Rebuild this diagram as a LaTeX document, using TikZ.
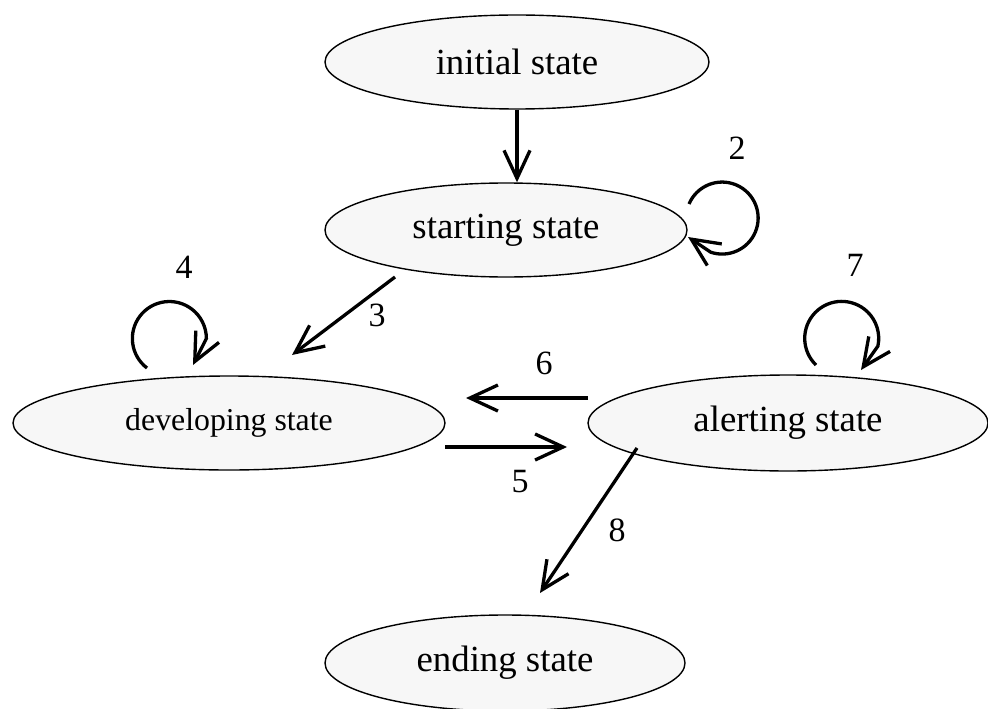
\documentclass[tikz,border=0pt]{standalone}
\usepackage{fontspec}
\setmainfont{Liberation Serif}
\usetikzlibrary{shapes.geometric,arrows.meta}
\definecolor{statefill}{HTML}{F7F7F7}

\begin{document}
\begin{tikzpicture}[x=0.5pt,y=0.5pt]
  \tikzstyle{state} = [ellipse, draw, line width=0.7pt, fill=statefill, inner sep=0pt, minimum height=47pt, font=\fontsize{18.4}{20}\selectfont]
  \tikzstyle{conn} = [line width=1.65pt, -{Straight Barb[length=14pt,width=13pt,line width=1.65pt]}]
  \tikzstyle{lbl} = [inner sep=0pt, font=\fontsize{17}{19}\selectfont]

  \useasboundingbox (0,0) rectangle (988,708);

  \node [state, minimum width=192pt] (initial) at (517,646) {initial state};
  \node [state, minimum width=181pt] (starting) at (506,478) {starting state};
  \node [state, minimum width=216pt, font=\fontsize{15.9}{18}\selectfont] (developing) at (229,285) {developing state};
  \node [state, minimum width=200pt, minimum height=48pt] (alerting) at (788,285) {alerting state};
  \node [state, minimum width=180pt, minimum height=48pt] (ending) at (505,45) {ending state};

  \draw [conn] (initial.south) -- (initial.south |- starting.north);
  \draw [conn] ([shift={(183,26)}]starting.center) arc[start angle=157, end angle=-108.4, radius=36] -- ([shift={(182,-7)}]starting.center);
  \draw [conn] ([shift={(-111,-47)}]starting.center) -- ([shift={(63,68)}]developing.center);
  \draw [conn] ([shift={(-82,55)}]developing.center) arc[start angle=232.8, end angle=0, radius=37] -- ([shift={(-36,58)}]developing.center);
  \draw [conn] ([shift={(216,-24)}]developing.center) -- ([shift={(-221,-24)}]alerting.center);
  \draw [conn] ([shift={(-200,25)}]alerting.center) -- ([shift={(237,25)}]developing.center);
  \draw [conn] ([shift={(28,58)}]alerting.center) arc[start angle=226, end angle=-12, radius=37] -- ([shift={(73,53)}]alerting.center);
  \draw [conn] ([shift={(-151,-25)}]alerting.center) -- ([shift={(35,70)}]ending.center);

  \node [lbl] (lbl2) at (737,560) {2};
  \node [lbl] (lbl3) at (377,393) {3};
  \node [lbl] (lbl4) at (184,441) {4};
  \node [lbl] (lbl5) at (520,226) {5};
  \node [lbl] (lbl6) at (544,345) {6};
  \node [lbl] (lbl7) at (855,443) {7};
  \node [lbl] (lbl8) at (617,178) {8};
\end{tikzpicture}
\end{document}
